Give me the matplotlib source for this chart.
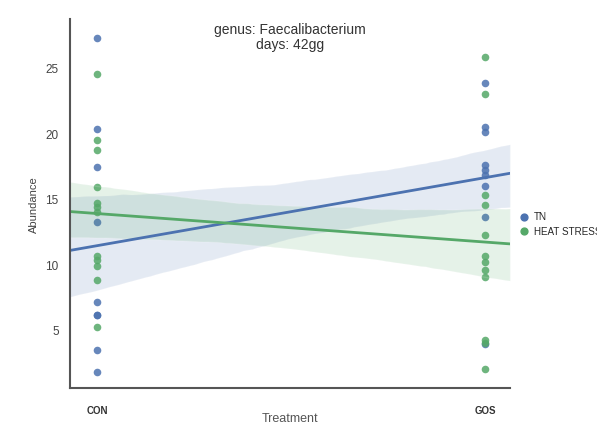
import numpy as np
import matplotlib
matplotlib.use("Agg")
import matplotlib.pyplot as plt
import seaborn as sns

# Faecalibacterium abundance at day 42, per treatment and group
groups = ["TN", "HEAT STRESS"]
treatments = ["CON", "GOS"]
tn_con = [27.3, 20.3, 17.4, 13.2, 7.1, 6.1, 6.1, 3.5, 1.8]
tn_gos = [23.8, 20.5, 20.1, 17.6, 17.2, 16.8, 16.0, 13.6, 3.9]
hs_con = [24.5, 19.5, 18.7, 15.9, 14.7, 14.4, 14.0, 10.6, 10.3, 9.9, 8.8, 5.2]
hs_gos = [25.8, 23.0, 15.3, 14.5, 12.2, 10.6, 10.2, 9.6, 9.0, 4.2, 4.0, 2.0]

colors = ["#4c72b0", "#55a868"]

sns.set_style("white")
plt.rcParams["font.family"] = ["Liberation Sans", "DejaVu Sans"]

fig = plt.figure(figsize=(5.97, 4.39), dpi=100)
ax = fig.add_axes([0.117, 0.114, 0.737, 0.840])
ax.set_xlim(-0.07, 1.064)
ax.set_ylim(0.57, 28.7)

handles = []
for (con, gos), col, name in zip([(tn_con, tn_gos), (hs_con, hs_gos)], colors, groups):
    x = np.r_[np.zeros(len(con)), np.ones(len(gos))]
    y = np.r_[con, gos]
    sns.regplot(x=x, y=y, ax=ax, color=col, truncate=False, seed=3, ci=80,
                scatter_kws=dict(s=30, alpha=0.85, linewidths=0),
                line_kws=dict(lw=2))
    handles.append(ax.scatter([], [], color=col, s=30, label=name))

ax.set_xlim(-0.07, 1.064)
ax.set_ylim(0.57, 28.7)

ax.set_xticks([0, 1])
ax.set_xticklabels(treatments, fontsize=7, color="#333333", fontweight="bold")
ax.tick_params(axis="x", length=0, pad=12)
ax.set_yticks([5, 10, 15, 20, 25])
ax.tick_params(axis="y", length=0, labelsize=8.5, colors="#444444", pad=8)
ax.set_xlabel("Treatment", fontsize=9, color="#555555", labelpad=-2)
ax.set_ylabel("Abundance", fontsize=8, color="#444444", labelpad=5)

for side in ["top", "right"]:
    ax.spines[side].set_visible(False)
for side in ["left", "bottom"]:
    ax.spines[side].set_color("#555555")
    ax.spines[side].set_linewidth(1.5)

ax.set_title("genus: Faecalibacterium\ndays: 42gg", fontsize=10,
             color="#333333", linespacing=1.1, y=0.9)

ax.legend(handles=handles, loc="center left", bbox_to_anchor=(0.99, 0.446),
          frameon=False, fontsize=7.1, handletextpad=0.0, markerscale=0.9,
          labelspacing=0.45)

fig.savefig("out.png", dpi=100)
